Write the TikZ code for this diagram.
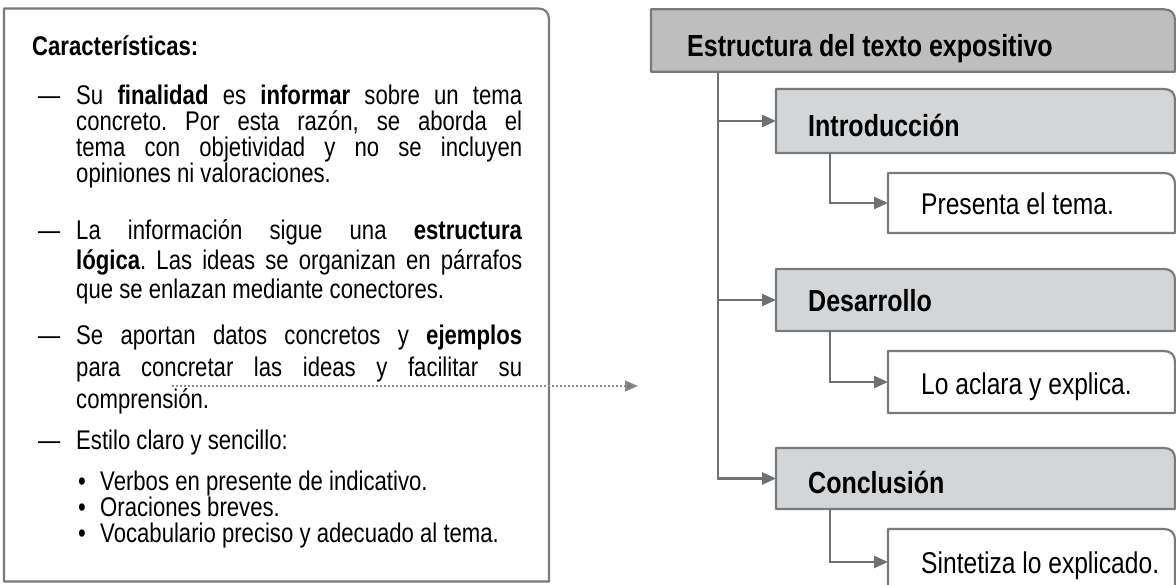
\documentclass[tikz,border=0pt]{standalone}
\usepackage{fontspec}
\setmainfont{Liberation Sans}[FakeStretch=0.82]
\usetikzlibrary{arrows.meta}
\definecolor{edgegray}{HTML}{7A7A7A}
\definecolor{conngray}{HTML}{707070}
\definecolor{headfill}{HTML}{BEBEBF}
\definecolor{secfill}{HTML}{D4D5D6}
\definecolor{dotgray}{HTML}{8C8C8C}
\newcommand\trbox[2]{\filldraw[boxedge, fill=#2] (#1.south west) -- (#1.north west) -- ([xshift=-11pt]#1.north east) .. controls ([xshift=-4pt]#1.north east) and ([yshift=-4pt]#1.north east) .. ([yshift=-11pt]#1.north east) -- (#1.south east) -- cycle;}
\frenchspacing
\begin{document}
\begin{tikzpicture}[x=1pt,y=-1pt,
  boxedge/.style={draw=edgegray, line width=2.2pt, line join=round},
  area/.style={inner sep=0pt, outer sep=0pt, anchor=north west},
  ltxt/.style={anchor=base west, inner sep=0pt, font=\fontsize{27}{27}\selectfont},
  rtxt/.style={anchor=base west, inner sep=0pt, font=\fontsize{30}{30}\selectfont},
  rbold/.style={rtxt, font=\fontsize{30.5}{30.5}\selectfont\bfseries},
  conn/.style={draw=conngray, line width=2.6pt},
  arr/.style={conn, -{Triangle[length=14pt,width=12pt]}},
  dotarr/.style={draw=dotgray, line width=1.6pt, dash pattern=on 1.6pt off 2.4pt, -{Triangle[length=13pt,width=11pt,fill=edgegray]}},
]
\useasboundingbox (0,0) rectangle (1176,585);
\clip (0,0) rectangle (1176,585);

% ---------- left panel ----------
\node[area, minimum width=545pt, minimum height=573pt] (panel) at (4,8.5) {};
\trbox{panel}{white}

\node[ltxt, font=\fontsize{27}{27}\selectfont\bfseries] (hd) at (32,56) {Características:};

\node[ltxt] (d1) at (38,105) {—};
\node[ltxt] (l1a) at (76,105) {\makebox[446pt][s]{Su \textbf{finalidad} es \textbf{informar} sobre un tema}};
\node[ltxt] (l1b) at (76,131) {\makebox[446pt][s]{concreto. Por esta razón, se aborda el}};
\node[ltxt] (l1c) at (76,157) {\makebox[446pt][s]{tema con objetividad y no se incluyen}};
\node[ltxt] (l1d) at (76,183) {opiniones ni valoraciones.};

\node[ltxt] (d2) at (38,240) {—};
\node[ltxt] (l2a) at (76,240) {\makebox[446pt][s]{La información sigue una \textbf{estructura}}};
\node[ltxt] (l2b) at (76,270) {\makebox[446pt][s]{\textbf{lógica}. Las ideas se organizan en párrafos}};
\node[ltxt] (l2c) at (76,299) {que se enlazan mediante conectores.};

\node[ltxt] (d3) at (38,345) {—};
\node[ltxt] (l3a) at (76,345) {\makebox[446pt][s]{Se aportan datos concretos y \textbf{ejemplos}}};
\node[ltxt] (l3b) at (76,377) {\makebox[446pt][s]{para concretar las ideas y facilitar su}};
\node[ltxt] (l3c) at (76,408) {comprensión.};

\node[ltxt] (d4) at (38,449) {—};
\node[ltxt] (l4a) at (76,449) {Estilo claro y sencillo:};

\node[ltxt, anchor=base] (b1) at (82,490) {•};
\node[ltxt] (s1) at (100,490) {Verbos en presente de indicativo.};
\node[ltxt, anchor=base] (b2) at (82,516) {•};
\node[ltxt] (s2) at (100,516) {Oraciones breves.};
\node[ltxt, anchor=base] (b3) at (82,542) {•};
\node[ltxt] (s3) at (100,542) {Vocabulario preciso y adecuado al tema.};

% ---------- dotted link ----------
\coordinate (dotstart) at (172,386);
\coordinate (dotend) at (638,386);
\draw[dotarr] (dotstart) -- (dotend);

% ---------- right scheme ----------
\node[area, minimum width=524pt, minimum height=62.4pt] (head) at (651,9.3) {};
\trbox{head}{headfill}
\node[rbold] (headtxt) at (687,57) {Estructura del texto expositivo};

\node[area, minimum width=399pt, minimum height=64pt] (intro) at (776,89) {};
\trbox{intro}{secfill}
\node[rbold] (introtxt) at (808,137) {Introducción};

\node[area, minimum width=287pt, minimum height=60pt] (leafa) at (888,173) {};
\trbox{leafa}{white}
\node[rtxt] (leafatxt) at (921,215) {Presenta el tema.};

\node[area, minimum width=399pt, minimum height=62pt] (devel) at (776,269) {};
\trbox{devel}{secfill}
\node[rbold] (develtxt) at (808,312) {Desarrollo};

\node[area, minimum width=287pt, minimum height=62pt] (leafb) at (888,351) {};
\trbox{leafb}{white}
\node[rtxt] (leafbtxt) at (921,395) {Lo aclara y explica.};

\node[area, minimum width=399pt, minimum height=61pt] (concl) at (776,448) {};
\trbox{concl}{secfill}
\node[rbold] (concltxt) at (808,493) {Conclusión};

\node[area, minimum width=287pt, minimum height=66pt] (leafc) at (888,529) {};
\trbox{leafc}{white}
\node[rtxt] (leafctxt) at (921,573) {Sintetiza lo explicado.};

\coordinate (trunk) at (718,0);
\coordinate (twig) at (830,0);
\draw[arr] (trunk |- head.south) |- (concl.west);
\draw[arr] (trunk |- intro.west) -- (intro.west);
\draw[arr] (trunk |- devel.west) -- (devel.west);
\draw[arr] (twig |- intro.south) |- (leafa.west);
\draw[arr] (twig |- devel.south) |- (leafb.west);
\draw[arr] (twig |- concl.south) |- (leafc.west);
\end{tikzpicture}
\end{document}
